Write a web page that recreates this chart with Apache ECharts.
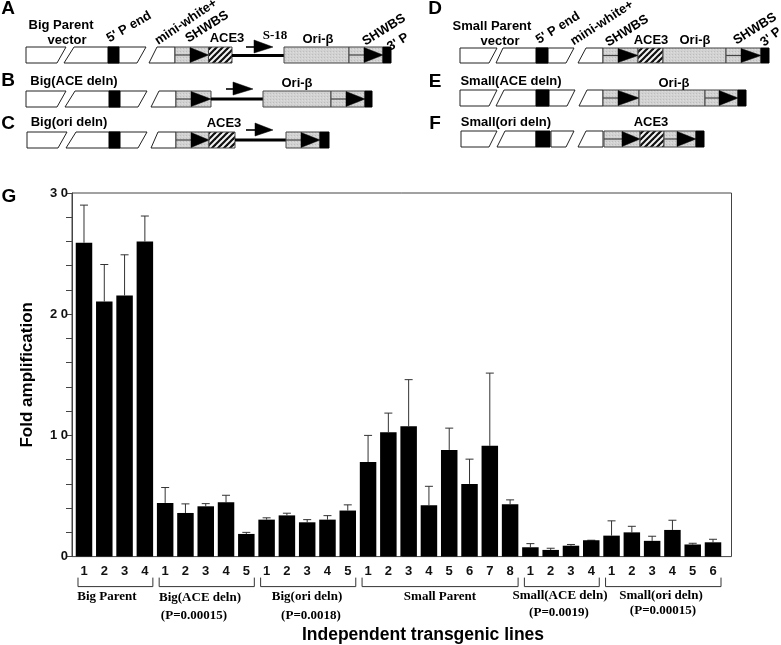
<!DOCTYPE html>
<html><head><meta charset="utf-8">
<style>html,body{margin:0;padding:0;background:#fff}#c{width:781px;height:645px}</style>
<script src="https://cdn.jsdelivr.net/npm/echarts@6/dist/echarts.min.js"></script>
</head><body><div id="c"></div>
<script>
const lineLabels = ['1','2','3','4','1','2','3','4','5','1','2','3','4','5','1','2','3','4','5','6','7','8','1','2','3','4','1','2','3','4','5','6'];
const meanValues = [25.9,21.05,21.55,26.0, 4.43,3.6,4.15,4.48,1.87, 3.05,3.4,2.83,3.05,3.8, 7.8,10.27,10.76,4.24,8.8,6.0,9.14,4.32, 0.77,0.55,0.9,1.35, 1.73,2.0,1.3,2.2,1.0,1.18];
const upperValues = [29.0,24.1,24.9,28.1, 5.7,4.35,4.37,5.06,2.0, 3.2,3.58,3.05,3.38,4.27, 10.0,11.84,14.6,5.8,10.6,8.04,15.14,4.68, 1.07,0.69,1.0,1.35, 2.95,2.5,1.68,3.0,1.1,1.43];
const groupSizes = [4,5,5,8,4,6];
const yTicks = {30:'3 0',20:'2 0',10:'1 0',0:'0'};

const black='#000', edge='#333';
function pat(size,draw){const c=document.createElement('canvas');c.width=c.height=size;draw(c.getContext('2d'));return {image:c,repeat:'repeat'};}
const stipple=pat(3,g=>{g.fillStyle='#d2d2d2';g.fillRect(0,0,3,3);g.fillStyle='#bdbdbd';g.fillRect(0,0,1,1);g.fillStyle='#dedede';g.fillRect(2,1,1,1);});
const hatch=pat(6,g=>{g.fillStyle='#f4f4f4';g.fillRect(0,0,6,6);g.strokeStyle='#111';g.lineWidth=2.2;
  [[-3,3,3,-3],[0,6,6,0],[3,9,9,3]].forEach(p=>{g.beginPath();g.moveTo(p[0],p[1]);g.lineTo(p[2],p[3]);g.stroke();});});

const gfx=[];
function poly(points,fill,stroke,lw){gfx.push({type:'polygon',silent:true,shape:{points},style:{fill:fill,stroke:stroke||'#222',lineWidth:lw==null?1:lw}});}
function box(x0,x1,y0,y1,fill,stroke){gfx.push({type:'rect',silent:true,shape:{x:x0,y:y0,width:x1-x0,height:y1-y0},style:{fill:fill,stroke:stroke||'none',lineWidth:1}});}
function seg(x0,y0,x1,y1,w,c){gfx.push({type:'line',silent:true,shape:{x1:x0,y1:y0,x2:x1,y2:y1},style:{stroke:c||black,lineWidth:w}});}
function txt(s,x,y,size,opt){opt=opt||{};gfx.push({type:'text',silent:true,x:x,y:y,rotation:(opt.rot||0)*Math.PI/180,style:{text:s,fill:'#000',textAlign:opt.align||'center',textVerticalAlign:'middle',
  font:(opt.weight||'bold')+' '+size+'px '+(opt.family||'"Liberation Sans",Arial,sans-serif')}});}
function shwbs(x0,xa,x1,y0,y1){box(x0,x1,y0,y1,stipple,'#444');const m=(y0+y1)/2;seg(x0,m,xa,m,1.2,'#444');poly([[xa,y0+.5],[xa,y1-.5],[x1,m]],black,black,.5);}
function schematic(x0,x1,y0,y1,fill){box(x0,x1,y0,y1,fill,'#444');}
function blk(x0,x1,y0,y1){box(x0,x1,y0,y1,black,black);}
function transcript(xl,xh,xt,y){seg(xl,y,xh,y,1.6);poly([[xh,y-7],[xh,y+6],[xt,y]],black,black,.5);}
function para(x0t,x1t,x1b,x0b,y0,y1){poly([[x0t,y0],[x1t,y0],[x1b,y1],[x0b,y1]],'#fff');}

/* Row A */
para(26,66,57,26,47,63);para(74,146,137,64,47,63);blk(108,119,47,63);para(157,175,175,149,47,63);
shwbs(175,190,208.5,47,63);schematic(208.5,232,47,63,hatch);seg(232,55.5,284,55.5,3);schematic(284,349,47,63,stipple);shwbs(349,364,383,47,63);blk(383,391,47,63);transcript(246,254,273,47);
/* Row B */
para(26,66,57,26,91,107);para(75,147,138,65,91,107);blk(109,120,91,107);para(159,176,176,151,91,107);
shwbs(176,191,211,91,107);seg(211,99,263,99,3);schematic(263,331,91,107,stipple);shwbs(331,346,365,91,107);blk(365,372,91,107);transcript(226,233,253,89);
/* Row C */
para(27,67,58,27,132,148);para(76,147,138,66,132,148);blk(109,120,132,148);para(158,176,176,151,132,148);
shwbs(176,191,209,132,148);schematic(209,235,132,148,hatch);seg(235,140,286,140,3);shwbs(286,301,320,132,148);blk(320,329,132,148);transcript(246,255,273,130);
/* Row D */
para(460,497,489,460,48,63);para(503,574,566,496,48,63);blk(536,548,48,63);para(586,603,603,578,48,63);
shwbs(603,618,638,48,63);schematic(638,663,48,63,hatch);schematic(663,726,48,63,stipple);shwbs(726,741,761,48,63);blk(761,769,48,63);
/* Row E */
para(460,497,489,460,90,106);para(504,575,567,496,90,106);blk(536,549,90,106);para(587,603,603,579,90,106);
shwbs(603,618,639,90,106);schematic(639,705,90,106,stipple);shwbs(705,719,738,90,106);blk(738,746,90,106);
/* Row F */
para(461,497,489,461,131,147);para(505,536,536,497,131,147);blk(536,550,131,147);para(551,574,566,551,131,147);para(586,603,603,578,131,147);
shwbs(604,622,640,131,147);schematic(640,664,131,147,hatch);shwbs(664,677,696,131,147);blk(696,704,131,147);

/* Panel letters */
[['A',8,9],['B',8,81],['C',8,124],['D',435,9],['E',435,82],['F',435,124],['G',9,197]].forEach(l=>txt(l[0],l[1],l[2],19));
/* Diagram labels */
const F=13;
txt('Big Parent',61,25,F);txt('vector',67,40,F);txt("5' P end",129,27,F,{rot:30});txt('mini-white+',186,22,F,{rot:34});txt('SHWBS',207,27,F,{rot:32});
txt('ACE3',227,38,F);txt('S-18',275,36,F,{family:'"Liberation Serif",serif'});txt('Ori-β',318,39,F);txt('SHWBS',384,30,F,{rot:32});txt("3' P",398,42,F,{rot:32});
txt('Big(ACE deln)',74,81,F);txt('Ori-β',297,83,F);txt('Big(ori deln)',69,122,F);txt('ACE3',224,123,F);
txt('Small Parent',492,26,F);txt('vector',500,41,F);txt("5' P end",558,28,F,{rot:32});txt('mini-white+',602,23,F,{rot:33});txt('SHWBS',627,31,F,{rot:32});
txt('ACE3',651,40,F);txt('Ori-β',695,40,F);txt('SHWBS',755,29,F,{rot:32});txt("3' P",771,37,F,{rot:38});
txt('Small(ACE deln)',511,81,F);txt('Ori-β',674,83,F);txt('Small(ori deln)',506,122,F);txt('ACE3',651,122,F);
/* Group labels */
const S={family:'"Liberation Serif",serif'},G=13;
txt('Big Parent',107,597,G,S);txt('Big(ACE deln)',200,598,G,S);txt('(P=0.00015)',194,616,G,S);txt('Big(ori deln)',307,597,G,S);txt('(P=0.0018)',311,616,G,S);
txt('Small Parent',440,597,G,S);txt('Small(ACE deln)',560,596,G,S);txt('(P=0.0019)',559,613,G,S);txt('Small(ori deln)',661,596,G,S);txt('(P=0.00015)',663,611,G,S);

const bracketData=[];let st0=0;groupSizes.forEach(n=>{bracketData.push([st0,st0+n-1]);st0+=n;});
const errorData=meanValues.map((v,i)=>[i,v,upperValues[i]]);

const plotTop=193,plotH=363.6,bold='"Liberation Sans",Arial,sans-serif';
const chart=echarts.init(document.getElementById('c'));
chart.setOption({
  animation:false,backgroundColor:'#fff',
  grid:[{left:73.85,width:649.3,top:plotTop,height:plotH,outerBoundsMode:'none'},{left:72,width:659.5,top:plotTop,height:plotH,outerBoundsMode:'none',show:true,borderColor:'#444',borderWidth:1,backgroundColor:'transparent'}],
  xAxis:[
    {type:'category',gridIndex:0,data:lineLabels,axisLine:{show:false},axisTick:{show:false},
     axisLabel:{interval:0,margin:8,fontSize:13,fontWeight:'bold',color:'#111',fontFamily:bold},
     name:'Independent transgenic lines',nameLocation:'middle',nameGap:70,
     nameTextStyle:{fontSize:17.5,fontWeight:'bold',color:'#000',fontFamily:bold,padding:[0,0,0,49]}},
    {type:'value',gridIndex:1,min:0,max:1,show:false}
  ],
  yAxis:[
    {type:'value',gridIndex:0,min:0,max:30,show:false},
    {type:'value',gridIndex:1,min:0,max:30,interval:2,splitLine:{show:false},
     axisLine:{show:true,lineStyle:{color:'#444'}},axisTick:{show:true,length:6,lineStyle:{color:'#444'}},
     axisLabel:{margin:4,fontSize:13,fontWeight:'bold',color:'#111',fontFamily:bold,showMinLabel:true,showMaxLabel:true,formatter:v=>yTicks[v]||''},
     name:'Fold amplification',nameLocation:'middle',nameRotate:90,nameGap:36,
     nameTextStyle:{fontSize:17,fontWeight:'bold',color:'#000',fontFamily:bold}}
  ],
  series:[
    {type:'bar',xAxisIndex:0,yAxisIndex:0,data:meanValues,barWidth:16.5,itemStyle:{color:'#000'},silent:true,z:3},
    {type:'custom',xAxisIndex:0,yAxisIndex:0,data:errorData,silent:true,z:2,encode:{x:0,y:2},
     renderItem:(p,api)=>{const b=api.coord([api.value(0),api.value(1)]),t=api.coord([api.value(0),api.value(2)]);
       const st={stroke:'#333',lineWidth:1,fill:'none'};
       return {type:'group',children:[
         {type:'line',shape:{x1:b[0],y1:b[1],x2:b[0],y2:t[1]},style:st},
         {type:'line',shape:{x1:b[0]-4,y1:t[1],x2:b[0]+4,y2:t[1]},style:st}]};}},
    {type:'custom',xAxisIndex:0,yAxisIndex:0,data:bracketData,silent:true,z:2,clip:false,encode:{x:0},
     renderItem:(p,api)=>{const a=api.coord([api.value(0),0]),e=api.coord([api.value(1),0]);
       const x0=a[0]-6,x1=e[0]+8,y0=a[1]+21,y1=a[1]+30;
       return {type:'polyline',shape:{points:[[x0,y0],[x0,y1],[x1,y1],[x1,y0]]},style:{stroke:'#333',lineWidth:1,fill:'none'}};}}
  ],
  graphic:{elements:gfx}
});
</script></body></html>
